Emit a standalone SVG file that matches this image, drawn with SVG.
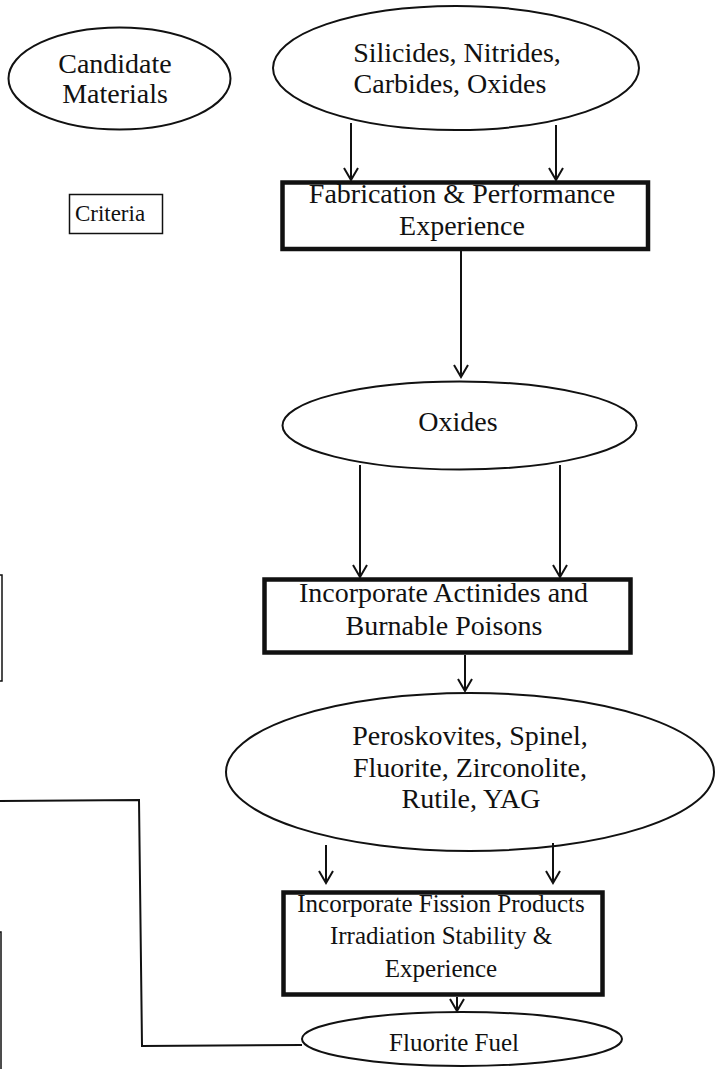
<svg xmlns="http://www.w3.org/2000/svg" width="717" height="1069" viewBox="0 0 717 1069">
  <style>
    .bg { fill: #ffffff; }
    .ell { fill: none; stroke: #111; stroke-width: 2; }
    .box { fill: none; stroke: #111; stroke-width: 4.5; }
    .thin { fill: none; stroke: #111; stroke-width: 1.5; }
    .edge { fill: none; stroke: #111; stroke-width: 2; }
    text { font-family: "Liberation Serif", "Times New Roman", serif; fill: #111; text-anchor: middle; }
    .t28 { font-size: 28px; }
    .t25 { font-size: 25px; }
    .t23 { font-size: 23px; }
  </style>
  <defs>
    <marker id="vhead" markerUnits="userSpaceOnUse" markerWidth="20" markerHeight="20" viewBox="-14 -10 16 20" refX="0" refY="0" orient="auto" overflow="visible">
      <path d="M -12 -7 L 0 0 L -12 7" fill="none" stroke="#111" stroke-width="2"/>
    </marker>
  </defs>

  <rect class="bg" x="0" y="0" width="717" height="1069"/>

  <!-- legend entries -->
  <g id="legend-candidate">
    <ellipse class="ell" cx="119.5" cy="78.5" rx="111" ry="51"/>
    <text class="t28" x="115" y="73">Candidate</text>
    <text class="t28" x="115" y="103">Materials</text>
  </g>
  <g id="legend-criteria">
    <rect class="thin" x="69.5" y="194.5" width="93" height="39"/>
    <text class="t23" x="110" y="221">Criteria</text>
  </g>
  <g id="legend-box-a">
    <rect class="thin" x="-100" y="575" width="102" height="106"/>
  </g>
  <g id="legend-box-b">
    <rect class="thin" x="-100" y="932" width="101" height="200"/>
  </g>

  <!-- flow nodes -->
  <g id="n-silicides">
    <ellipse class="ell" cx="456" cy="68" rx="183" ry="62"/>
    <text class="t28" x="457" y="62">Silicides, Nitrides,</text>
    <text class="t28" x="450" y="93">Carbides, Oxides</text>
  </g>
  <g id="n-fabrication">
    <rect class="box" x="282.5" y="182.5" width="365.5" height="66.5"/>
    <text class="t28" x="462" y="203">Fabrication &amp; Performance</text>
    <text class="t28" x="462" y="235">Experience</text>
  </g>
  <g id="n-oxides">
    <ellipse class="ell" cx="459.5" cy="425.5" rx="177" ry="44"/>
    <text class="t28" x="458" y="431">Oxides</text>
  </g>
  <g id="n-actinides">
    <rect class="box" x="264.5" y="579.5" width="366" height="73"/>
    <text class="t28" x="443.5" y="602">Incorporate Actinides and</text>
    <text class="t28" x="444" y="635">Burnable Poisons</text>
  </g>
  <g id="n-ceramics">
    <ellipse class="ell" cx="470" cy="772" rx="244" ry="79"/>
    <text class="t28" x="470" y="745">Peroskovites, Spinel,</text>
    <text class="t28" x="470" y="777">Fluorite, Zirconolite,</text>
    <text class="t28" x="471" y="808">Rutile, YAG</text>
  </g>
  <g id="n-fission">
    <rect class="box" x="283.5" y="892.5" width="319" height="102"/>
    <text class="t25" x="441" y="912">Incorporate Fission Products</text>
    <text class="t25" x="441" y="944">Irradiation Stability &amp;</text>
    <text class="t25" x="441" y="977">Experience</text>
  </g>
  <g id="n-fuel">
    <ellipse class="ell" cx="462" cy="1039" rx="160" ry="27"/>
    <text class="t25" x="454" y="1051">Fluorite Fuel</text>
  </g>

  <!-- connectors -->
  <g id="connectors">
    <line class="edge" x1="351" y1="123" x2="351" y2="180" marker-end="url(#vhead)"/>
    <line class="edge" x1="556" y1="125" x2="556" y2="180" marker-end="url(#vhead)"/>
    <line class="edge" x1="461" y1="251" x2="461" y2="377" marker-end="url(#vhead)"/>
    <line class="edge" x1="360" y1="465" x2="360" y2="577" marker-end="url(#vhead)"/>
    <line class="edge" x1="560" y1="465" x2="560" y2="577" marker-end="url(#vhead)"/>
    <line class="edge" x1="465" y1="655" x2="465" y2="691" marker-end="url(#vhead)"/>
    <line class="edge" x1="326" y1="845" x2="326" y2="883" marker-end="url(#vhead)"/>
    <line class="edge" x1="553" y1="843" x2="553" y2="883" marker-end="url(#vhead)"/>
    <line class="edge" x1="457" y1="997" x2="457" y2="1011" marker-end="url(#vhead)"/>
    <polyline class="edge" points="302,1045 142,1046 139,800 0,801"/>
  </g>
</svg>
